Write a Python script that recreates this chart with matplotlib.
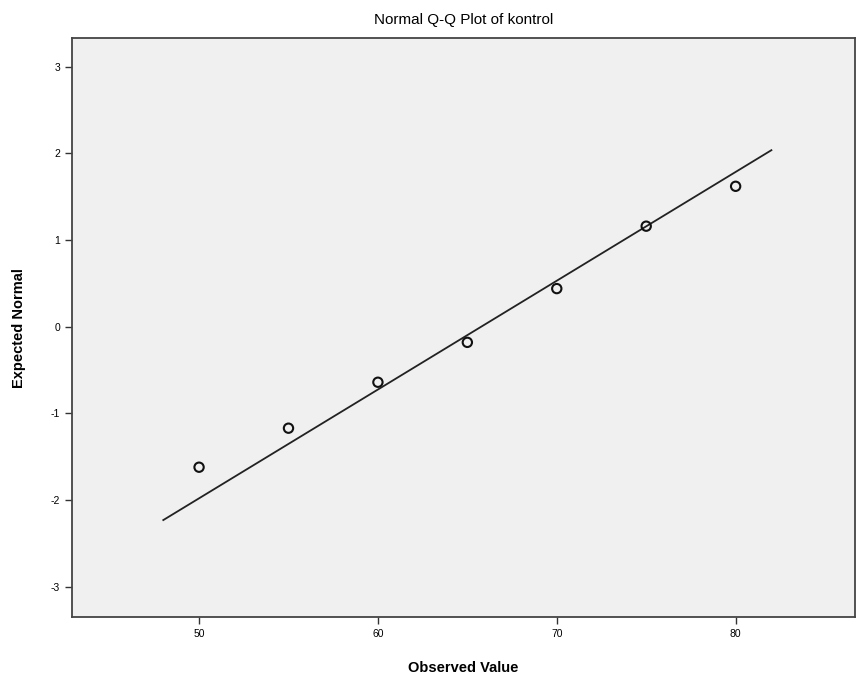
import numpy as np
import matplotlib.pyplot as plt

plt.rcParams['font.family'] = ['Liberation Sans', 'DejaVu Sans']
plt.rcParams['axes.unicode_minus'] = False

observed = [50, 55, 60, 65, 70, 75, 80]
expected = [-1.62, -1.17, -0.64, -0.18, 0.44, 1.16, 1.62]

# reference line: expected = (x - mean) / sd
line_mean = 65.77
line_sd = 7.97
line_x = [48, 82]

x_ticks = [50, 60, 70, 80]
y_ticks = [-3, -2, -1, 0, 1, 2, 3]

fig = plt.figure(figsize=(8.58, 6.79), dpi=100)
ax = fig.add_axes([0.084, 0.091, 0.912, 0.853])
ax.set_facecolor('#f0f0f0')

lx = np.array(line_x, dtype=float)
ax.plot(lx, (lx - line_mean) / line_sd, color='#222222', linewidth=1.3)
ax.scatter(observed, expected, s=45, facecolors='none', edgecolors='#111111',
           linewidths=1.5, zorder=3)

ax.set_xlim(42.9, 86.65)
ax.set_ylim(-3.35, 3.33)
ax.set_xticks(x_ticks)
ax.set_yticks(y_ticks)
ax.tick_params(labelsize=7.5, length=5, width=1, color='#333333')

for s in ax.spines.values():
    s.set_color('#444444')
    s.set_linewidth(1.3)

ax.set_title('Normal Q-Q Plot of kontrol', fontsize=11, pad=10)
ax.set_xlabel('Observed Value', fontsize=10.5, fontweight='bold', labelpad=16)
ax.set_ylabel('Expected Normal', fontsize=10.5, fontweight='bold', labelpad=18)

fig.savefig('out.png', dpi=100)
